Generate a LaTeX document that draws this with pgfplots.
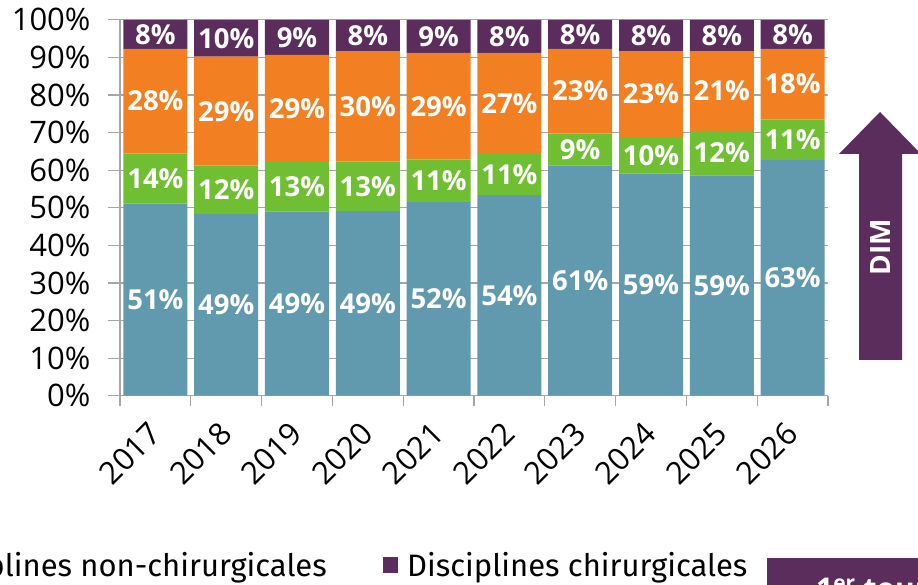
\documentclass[border=0pt]{standalone}
\usepackage{fontspec}
\setmainfont{Open Sans}
\newfontfamily\legfont{Fira Sans}
\usepackage{pgfplots}
\usepackage{pgfplotstable}
\pgfplotsset{compat=1.18}
\definecolor{cblue}{HTML}{6199AF}
\definecolor{cgreen}{HTML}{70BF33}
\definecolor{corange}{HTML}{F28022}
\definecolor{cpurple}{HTML}{5B2D5C}
\definecolor{cgrid}{HTML}{A6A6A6}

% y = segment share (%), mid = centre of the segment in the stack, lab = printed label
\pgfplotstableread{
x y mid lab
0 51.1 25.55 51
1 48.4 24.20 49
2 49.0 24.50 49
3 49.2 24.60 49
4 51.5 25.75 52
5 53.4 26.70 54
6 61.2 30.60 61
7 59.1 29.55 59
8 58.6 29.30 59
9 62.7 31.35 63
}\tblue
\pgfplotstableread{
x y mid lab
0 13.4 57.80 14
1 12.8 54.80 12
2 13.2 55.60 13
3 13.1 55.75 13
4 11.3 57.15 11
5 10.9 58.85 11
6 8.6 65.50 9
7 9.8 64.00 10
8 11.9 64.55 12
9 10.8 68.10 11
}\tgreen
\pgfplotstableread{
x y mid lab
0 27.8 78.40 28
1 29.0 75.70 29
2 28.5 76.45 29
3 29.4 77.00 30
4 28.4 77.00 29
5 26.9 77.75 27
6 22.5 81.05 23
7 22.8 80.30 23
8 21.2 81.10 21
9 18.8 82.90 18
}\torange
\pgfplotstableread{
x y mid lab
0 7.7 96.15 8
1 9.8 95.10 10
2 9.3 95.35 9
3 8.3 95.85 8
4 8.8 95.60 9
5 8.8 95.60 8
6 7.7 96.15 8
7 8.3 95.85 8
8 8.3 95.85 8
9 7.7 96.15 8
}\tpurple

\pgfplotsset{common/.style={
  at={(120pt,189.3pt)}, anchor=south west,
  scale only axis, width=708pt, height=375.8pt,
  xmin=-0.5, xmax=9.5, ymin=0, ymax=100}}

\begin{document}
\begin{tikzpicture}
\useasboundingbox (0pt,0pt) rectangle (918pt,585pt);
\begin{scope}
\clip (0pt,0pt) rectangle (918pt,585pt);
\begin{axis}[
  common,
  ybar stacked, bar width=64pt,
  axis x line*=bottom, axis y line*=left,
  axis line style={cgrid, line width=1.2pt, -},
  tick align=outside,
  ytick={0,10,...,100},
  yticklabel={\pgfmathprintnumber{\tick}\%},
  ymajorgrids, grid style={cgrid, line width=1.2pt},
  major tick length=12pt, minor tick length=10pt,
  tick style={cgrid, line width=1.2pt},
  xtick={0,...,9},
  xticklabels={2017,2018,2019,2020,2021,2022,2023,2024,2025,2026},
  major x tick style={draw=none},
  minor xtick={-0.5,0.5,...,9.5},
  ticklabel style={font=\fontsize{31}{32}\selectfont},
  /pgf/number format/assume math mode=true,
  yticklabel style={anchor=east, xshift=-14pt},
  xticklabel style={xshift=2pt, yshift=-18pt, rotate=45, anchor=east},
]
\addplot[fill=cblue, draw=none] table[x=x, y=y] {\tblue};
\addplot[fill=cgreen, draw=none] table[x=x, y=y] {\tgreen};
\addplot[fill=corange, draw=none] table[x=x, y=y] {\torange};
\addplot[fill=cpurple, draw=none] table[x=x, y=y] {\tpurple};
\end{axis}
\begin{axis}[
  common, hide axis,
  nodes near coords={\pgfplotspointmeta\%},
  point meta=explicit symbolic,
  every node near coord/.append style={font=\fontsize{27.5}{28}\selectfont\bfseries, text=white, anchor=center},
]
\addplot[draw=none, mark=none] table[x=x, y=mid, meta=lab] {\tblue};
\addplot[draw=none, mark=none] table[x=x, y=mid, meta=lab] {\tgreen};
\addplot[draw=none, mark=none] table[x=x, y=mid, meta=lab] {\torange};
\addplot[draw=none, mark=none] table[x=x, y=mid, meta=lab] {\tpurple};
\end{axis}
% DIM arrow
\fill[cpurple] (880pt,473pt) -- (921pt,431pt) -- (902pt,431pt) -- (902pt,225pt) -- (859pt,225pt) -- (859pt,431pt) -- (839pt,431pt) -- cycle;
\node[rotate=90, text=white, font=\bfseries\fontsize{28}{28}\selectfont] at (880.5pt,338pt) {DIM};
% legend (cropped)
\node[anchor=base east, inner sep=0pt, font=\legfont\fontsize{31}{31}\selectfont] at (327pt,8pt) {Disciplines non-chirurgicales};
\fill[cpurple] (383pt,12pt) rectangle (398pt,28pt);
\node[anchor=base west, inner sep=0pt, font=\legfont\fontsize{31}{31}\selectfont] at (407pt,8pt) {Disciplines chirurgicales};
\fill[cpurple] (767pt,-20pt) rectangle (930pt,27pt);
\node[anchor=base west, inner sep=0pt, text=white, font=\bfseries\fontsize{30}{30}\selectfont] at (816pt,-15pt) {1\textsuperscript{er} tour};
\end{scope}
\end{tikzpicture}
\end{document}
